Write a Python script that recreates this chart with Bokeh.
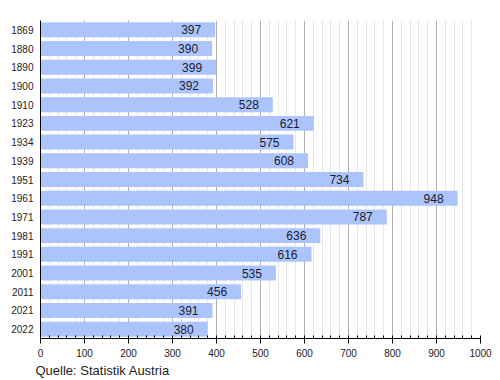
from bokeh.plotting import figure
from bokeh.models import ColumnDataSource, Range1d, FactorRange, SingleIntervalTicker, Title
from bokeh.core.properties import value
from bokeh.embed import file_html
from bokeh.resources import INLINE

years = ["1869", "1880", "1890", "1900", "1910", "1923", "1934", "1939", "1951",
         "1961", "1971", "1981", "1991", "2001", "2011", "2021", "2022"]
population = [397, 390, 399, 392, 528, 621, 575, 608, 734,
              948, 787, 636, 616, 535, 456, 391, 380]
source_note = "Quelle: Statistik Austria"

FONT = "Liberation Sans"

src = ColumnDataSource(dict(year=years, pop=population, lab=[str(v) for v in population]))

p = figure(width=492, height=378, output_backend="svg", toolbar_location=None,
           y_range=FactorRange(*list(reversed(years))), x_range=Range1d(0, 1000),
           min_border_left=40, min_border_right=12, min_border_top=20, min_border_bottom=0)

p.hbar(y="year", right="pop", left=0, height=0.8, source=src,
       fill_color="#abc4fb", line_color=None)
p.text(x="pop", y="year", text="lab", source=src, x_offset=-14,
       text_align="right", text_baseline="middle", text_font=value(FONT),
       text_font_size="12px", text_color="#1b1b2f")

p.outline_line_color = None
p.ygrid.grid_line_color = None
ticker = SingleIntervalTicker(interval=100, num_minor_ticks=5)
p.xaxis.ticker = ticker
p.xgrid.ticker = ticker
p.xgrid.grid_line_color = "#b0b0b0"
p.xgrid.minor_grid_line_color = "#e6e6e6"

p.xaxis.axis_line_color = "black"
p.xaxis.major_tick_out = 5
p.xaxis.major_tick_in = 0
p.xaxis.minor_tick_in = 3
p.xaxis.minor_tick_out = 0
p.xaxis.major_tick_line_color = "black"
p.xaxis.minor_tick_line_color = "black"
p.xaxis.major_label_text_font = FONT
p.xaxis.major_label_text_font_size = "10px"
p.xaxis.major_label_text_color = "#222222"
p.xaxis.major_label_standoff = 5

p.yaxis.axis_line_color = "black"
p.yaxis.major_tick_out = 0
p.yaxis.major_tick_in = 0
p.yaxis.minor_tick_out = 0
p.yaxis.major_tick_line_color = None
p.yaxis.minor_tick_line_color = None
p.yaxis.major_label_text_font = FONT
p.yaxis.major_label_text_font_size = "10px"
p.yaxis.major_label_text_color = "#222222"
p.yaxis.major_label_standoff = 7

t = Title(text=source_note, align="left", text_font=FONT, text_font_size="13px",
          text_font_style="normal", text_color="#222222", offset=-5, standoff=2)
p.add_layout(t, "below")

open("out.html", "w").write(file_html(p, INLINE))
